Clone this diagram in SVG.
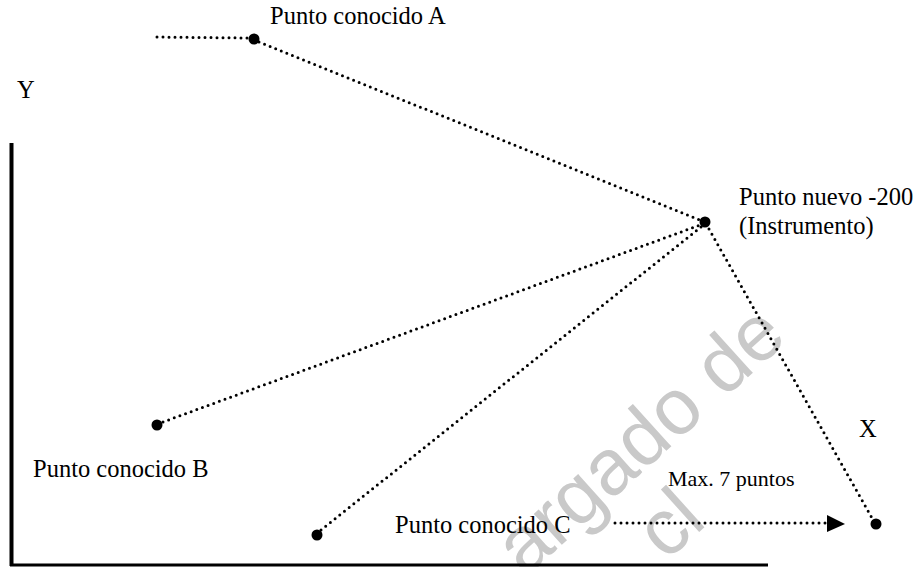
<svg xmlns="http://www.w3.org/2000/svg" width="921" height="567" viewBox="0 0 921 567">
<style>
.lbl{font-family:"Liberation Serif","Times New Roman",serif;font-size:24.5px;fill:#000}
.sm{font-size:22px}
.dot{fill:#000}
.dl{stroke:#000;stroke-width:3;stroke-linecap:round;stroke-dasharray:0 6;fill:none}
.axis{stroke:#000;fill:none}
.wm{font-family:"Liberation Sans",Arial,sans-serif;font-size:79px;fill:#c9c9c9}
</style>
<rect width="921" height="567" fill="#fff"/>
<g id="watermark">
<text class="wm" transform="translate(525,578) rotate(-42)">argado de</text>
<text class="wm" transform="translate(666,562) rotate(-42)">cl</text>
</g>
<g id="axes">
<line class="axis" x1="11.5" y1="143" x2="11.5" y2="566" stroke-width="4"/>
<line class="axis" x1="10" y1="565" x2="768" y2="565" stroke-width="3"/>
<text class="lbl" x="17" y="98">Y</text>
<text class="lbl" x="859" y="437">X</text>
</g>
<g id="connectors">
<line class="dl" x1="157" y1="37" x2="247" y2="38"/>
<line class="dl" x1="259" y1="42" x2="700" y2="220"/>
<line class="dl" x1="163" y1="422" x2="700" y2="225"/>
<line class="dl" x1="321" y1="530" x2="701" y2="227"/>
<line class="dl" x1="709" y1="229" x2="872" y2="518"/>
<line class="dl" x1="615" y1="523" x2="828" y2="523"/>
<path d="M827,515 L845,524 L827,532 Z" fill="#000"/>
</g>
<g id="pointA">
<circle class="dot" cx="254" cy="39" r="5.5"/>
<text class="lbl" x="270" y="24">Punto conocido A</text>
</g>
<g id="pointNew">
<circle class="dot" cx="705" cy="222" r="5.5"/>
<text class="lbl" x="739" y="205">Punto nuevo -200</text>
<text class="lbl" x="739" y="234">(Instrumento)</text>
</g>
<g id="pointB">
<circle class="dot" cx="157" cy="425" r="5.5"/>
<text class="lbl" x="33" y="477">Punto conocido B</text>
</g>
<g id="pointC">
<circle class="dot" cx="317" cy="535" r="5.5"/>
<text class="lbl" x="395" y="533">Punto conocido C</text>
</g>
<g id="pointX">
<circle class="dot" cx="876" cy="524" r="5.5"/>
</g>
<g id="maxLabel">
<text class="lbl sm" x="668" y="486">Max. 7 puntos</text>
</g>
</svg>
